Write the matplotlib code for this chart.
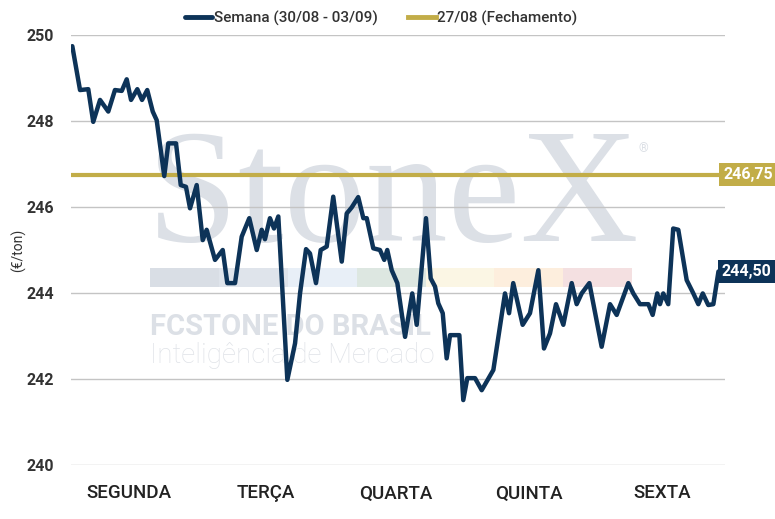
import matplotlib.pyplot as plt
from matplotlib.patches import Rectangle
import matplotlib.transforms as mtransforms

# time in trading days from Monday open (0) to Friday close (5)
dias = [0.010, 0.069, 0.132, 0.170, 0.222, 0.285, 0.336, 0.388, 0.426, 0.459,
        0.507, 0.543, 0.583, 0.625, 0.655, 0.713, 0.744, 0.803, 0.839, 0.879,
        0.910, 0.961, 1.007, 1.037, 1.101, 1.160, 1.195, 1.254, 1.305, 1.363,
        1.420, 1.458, 1.483, 1.521, 1.552, 1.585, 1.654, 1.713, 1.751, 1.797,
        1.827, 1.873, 1.909, 1.955, 2.005, 2.070, 2.108, 2.146, 2.196, 2.235,
        2.261, 2.311, 2.362, 2.395, 2.418, 2.452, 2.495, 2.554, 2.609, 2.643,
        2.714, 2.750, 2.783, 2.808, 2.842, 2.872, 2.898, 2.969, 2.999, 3.030,
        3.089, 3.140, 3.229, 3.318, 3.349, 3.381, 3.453, 3.509, 3.573, 3.616,
        3.662, 3.708, 3.764, 3.828, 3.866, 3.904, 3.963, 4.057, 4.121, 4.172,
        4.261, 4.299, 4.350, 4.414, 4.447, 4.482, 4.503, 4.528, 4.566, 4.604,
        4.643, 4.707, 4.758, 4.796, 4.830, 4.872, 4.911, 4.950, 4.962]

precos = [249.74, 248.72, 248.74, 247.98, 248.49, 248.22, 248.72, 248.70, 248.97, 248.49,
          248.74, 248.49, 248.72, 248.22, 248.02, 246.72, 247.48, 247.48, 246.51, 246.47,
          245.97, 246.51, 245.23, 245.47, 244.77, 245.00, 244.23, 244.23, 245.31, 245.74,
          245.00, 245.47, 245.25, 245.74, 245.50, 245.78, 241.98, 242.83, 243.99, 245.02,
          244.92, 244.23, 245.00, 245.08, 246.24, 244.73, 245.85, 245.99, 246.23, 245.74,
          245.74, 245.04, 245.00, 244.77, 245.00, 244.53, 244.23, 242.98, 243.99, 243.26,
          245.74, 244.34, 244.15, 243.76, 243.53, 242.48, 243.02, 243.02, 241.51, 242.02,
          242.02, 241.74, 242.21, 243.99, 243.53, 244.23, 243.26, 243.53, 244.53, 242.71,
          243.06, 243.74, 243.26, 244.23, 243.74, 243.99, 244.23, 242.75, 243.74, 243.49,
          244.23, 243.99, 243.74, 243.74, 243.49, 243.99, 243.74, 243.99, 243.74, 245.50,
          245.47, 244.30, 243.99, 243.74, 243.99, 243.72, 243.74, 244.50, 244.50]

fechamento = 246.75
ultimo = 244.50

dias_semana = ['SEGUNDA', 'TERÇA', 'QUARTA', 'QUINTA', 'SEXTA']
pos_dias = [0.44, 1.49, 2.48, 3.50, 4.52]
y_ticks = [240, 242, 244, 246, 248, 250]

azul = '#0d3358'
dourado = '#c2ad48'
plt.rcParams['font.family'] = ['Roboto', 'DejaVu Sans']

fig = plt.figure(figsize=(7.75, 5.19), dpi=100)
ax = fig.add_axes([71 / 775, 54 / 519, 654 / 775, 430 / 519])

# marca d'agua
ax.text(0.116, 0.520, 'StoneX', transform=ax.transAxes, family='Liberation Serif',
        fontsize=118, color='#dce0e6', zorder=1, va='baseline')
ax.text(0.868, 0.728, '®', transform=ax.transAxes, fontsize=9, color='#dce0e6', zorder=1)
cores_barra = ['#d9dee5', '#dfe4eb', '#e8eff7', '#dde7e1', '#fbf6e4', '#fdeedd', '#f4e0e1']
for i, c in enumerate(cores_barra):
    ax.add_patch(Rectangle((0.121 + i * 0.1053, 0.414), 0.1053, 0.044,
                           transform=ax.transAxes, color=c, lw=0, zorder=1))
ax.text(0.121, 0.302, 'FCSTONE DO BRASIL', transform=ax.transAxes, fontsize=21,
        fontweight='bold', color='#dce0e6', zorder=1, va='baseline')
ax.text(0.121, 0.238, 'Inteligência de Mercado', transform=ax.transAxes, fontsize=20,
        fontweight='light', color='#e0e3e8', zorder=1, va='baseline')

ax.plot(dias, precos, color=azul, lw=3.2, solid_joinstyle='round', solid_capstyle='round',
        zorder=4, label='Semana (30/08 - 03/09)')
ax.axhline(fechamento, xmax=0.993, color=dourado, lw=3, zorder=3, label='27/08 (Fechamento)')

ax.set_xlim(0, 5)
ax.set_ylim(240, 250)
ax.set_yticks(y_ticks)
ax.set_yticklabels([str(v) for v in y_ticks], fontsize=11.5, fontweight='bold', color='#333333')
ax.set_xticks(pos_dias)
ax.set_xticklabels(dias_semana, fontsize=13.5, fontweight='medium', color='#222222')
ax.tick_params(axis='y', length=0, pad=12)
ax.tick_params(axis='x', length=0, pad=14)
ax.grid(axis='y', color='#c4c4c4', lw=1, zorder=0)
for s in ax.spines.values():
    s.set_visible(False)
ax.set_ylabel('(€/ton)', fontsize=10, color='#333333')
ax.yaxis.set_label_coords(-0.068, 0.5)

# rotulos do lado direito
trans = mtransforms.blended_transform_factory(ax.transAxes, ax.transData)
ax.text(0.997, fechamento, f'{fechamento:.2f}'.replace('.', ','), transform=trans,
        va='center', ha='left', fontsize=11.5, fontweight='bold', color='white', zorder=6,
        bbox=dict(boxstyle='square,pad=0.25', fc=dourado, ec='none'))
ax.text(0.995, ultimo, f'{ultimo:.2f}'.replace('.', ','), transform=trans,
        va='center', ha='left', fontsize=11.5, fontweight='bold', color='white', zorder=6,
        bbox=dict(boxstyle='square,pad=0.25', fc=azul, ec='none'))

leg = fig.legend(loc='center', bbox_to_anchor=(0.492, 0.965), ncol=2, frameon=False,
                 prop={'size': 11, 'weight': 'medium'}, handlelength=1.8,
                 handletextpad=0.1, columnspacing=2.0, labelcolor='#333333')
for h in leg.legend_handles:
    h.set_linewidth(3.5)

fig.savefig('out.png', dpi=100)
